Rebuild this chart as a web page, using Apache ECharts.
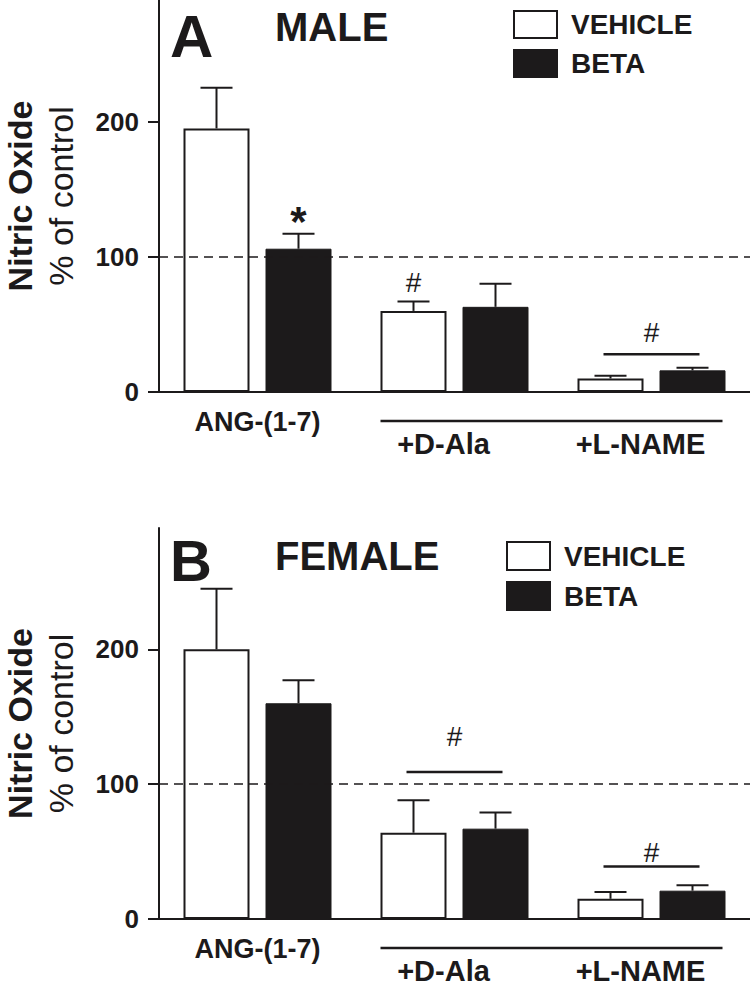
<!DOCTYPE html>
<html>
<head>
<meta charset="utf-8">
<script src="https://cdn.jsdelivr.net/npm/echarts@6/dist/echarts.min.js"></script>
<style>
  html, body { margin: 0; padding: 0; background: #fff; }
  #chart { width: 750px; height: 986px; }
</style>
</head>
<body>
<div id="chart"></div>
<script>
const categories = ['ANG-(1-7)', '+D-Ala', '+L-NAME'];
const seriesNames = ['VEHICLE', 'BETA'];

// panel A (male)
const maleVehicle = [195, 60, 10];
const maleVehicleErr = [225, 67, 12];
const maleBeta = [106, 63, 16];
const maleBetaErr = [117, 80, 18];
// [category, bar (0 vehicle / 1 beta / -1 pair), value, mark]
const maleSigns = [[0, 1, 126, '*'], [1, 0, 81, '#'], [2, -1, 44, '#']];
const maleBrackets = [[2, 28]];

// panel B (female)
const femaleVehicle = [200, 64, 15];
const femaleVehicleErr = [245, 88, 20];
const femaleBeta = [160, 67, 21];
const femaleBetaErr = [177, 79, 25];
const femaleSigns = [[1, -1, 135, '#'], [2, -1, 49, '#']];
const femaleBrackets = [[1, 109], [2, 39]];

const yMajorTicks = [0, 100, 200];
const yMinorTicks = [50, 150, 250];
const controlLevel = 100;
// treatment line under +D-Ala / +L-NAME : [from cat, to cat, value]
const groupSpan = [1, 2, -21.5];

const INK = '#1c1a1b';
const FONT = '"Liberation Sans", Arial, Helvetica, sans-serif';
const BAR_W = 66;
const BAR_GAP = 16;
const HALF_STEP = (BAR_W + BAR_GAP) / 2;

const chart = echarts.init(document.getElementById('chart'), null, { renderer: 'svg' });

function errorSeries(grid, side, means, errs) {
  return {
    type: 'custom',
    xAxisIndex: grid, yAxisIndex: grid * 2,
    z: 4,
    silent: true,
    data: means.map((m, i) => [i, m, errs[i]]),
    renderItem: (params, api) => {
      const cat = api.value(0);
      const base = api.coord([cat, api.value(1)]);
      const top = api.coord([cat, api.value(2)]);
      const x = base[0] + side * HALF_STEP;
      const st = { stroke: INK, lineWidth: 2 };
      return {
        type: 'group',
        children: [
          { type: 'line', shape: { x1: x, y1: base[1], x2: x, y2: top[1] }, style: st },
          { type: 'line', shape: { x1: x - 16, y1: top[1], x2: x + 16, y2: top[1] }, style: st }
        ]
      };
    }
  };
}

function signSeries(grid, signs) {
  return {
    type: 'custom',
    xAxisIndex: grid, yAxisIndex: grid * 2,
    z: 4, clip: false, silent: true,
    data: signs.map(s => [s[0], s[2]]),
    renderItem: (params, api) => {
      const s = signs[params.dataIndex];
      const p = api.coord([api.value(0), api.value(1)]);
      const x = s[1] < 0 ? p[0] : p[0] + (s[1] === 0 ? -1 : 1) * HALF_STEP;
      const star = s[3] === '*';
      return {
        type: 'text',
        x: x, y: p[1],
        style: {
          text: s[3], fill: INK, fontFamily: FONT,
          fontSize: star ? 42 : 28, fontWeight: star ? 'bold' : 'normal',
          align: 'center', verticalAlign: 'middle'
        }
      };
    }
  };
}

function bracketSeries(grid, brackets) {
  return {
    type: 'custom',
    xAxisIndex: grid, yAxisIndex: grid * 2,
    z: 4, clip: false, silent: true,
    data: brackets,
    renderItem: (params, api) => {
      const p = api.coord([api.value(0), api.value(1)]);
      return {
        type: 'line',
        shape: { x1: p[0] - 48, y1: p[1], x2: p[0] + 48, y2: p[1] },
        style: { stroke: INK, lineWidth: 2.5 }
      };
    }
  };
}

function groupLineSeries(grid) {
  return {
    type: 'custom',
    xAxisIndex: grid, yAxisIndex: grid * 2,
    z: 4, clip: false, silent: true,
    data: [groupSpan],
    renderItem: (params, api) => {
      const a = api.coord([api.value(0), api.value(2)]);
      const b = api.coord([api.value(1), api.value(2)]);
      return {
        type: 'line',
        shape: { x1: a[0] - HALF_STEP - BAR_W / 2, y1: a[1], x2: b[0] + HALF_STEP + BAR_W / 2 - 3, y2: b[1] },
        style: { stroke: INK, lineWidth: 2.5 }
      };
    }
  };
}

function panelSeries(grid, vehicle, vehicleErr, beta, betaErr, signs, brackets) {
  return [
    {
      type: 'line', xAxisIndex: grid, yAxisIndex: grid * 2, data: [], z: 1,
      markLine: {
        silent: true, symbol: ['none', 'none'], label: { show: false },
        lineStyle: { color: INK, width: 1.5, type: [9, 6] },
        data: [{ yAxis: controlLevel }]
      }
    },
    {
      name: seriesNames[0], type: 'bar', xAxisIndex: grid, yAxisIndex: grid * 2,
      data: vehicle, barWidth: BAR_W, barGap: (BAR_GAP / BAR_W * 100) + '%', z: 3,
      itemStyle: { color: '#ffffff', borderColor: INK, borderWidth: 2 }
    },
    {
      name: seriesNames[1], type: 'bar', xAxisIndex: grid, yAxisIndex: grid * 2,
      data: beta, barWidth: BAR_W, z: 3,
      itemStyle: { color: INK, borderColor: INK, borderWidth: 1 }
    },
    errorSeries(grid, -1, vehicle, vehicleErr),
    errorSeries(grid, 1, beta, betaErr),
    signSeries(grid, signs),
    bracketSeries(grid, brackets),
    groupLineSeries(grid)
  ];
}

function xAxisFor(grid) {
  return {
    type: 'category', gridIndex: grid, data: categories,
    axisLine: { lineStyle: { color: INK, width: 2 } },
    axisTick: { show: false },
    axisLabel: {
      interval: 0, margin: 16, color: INK,
      formatter: (v, i) => i === 0 ? '{a|' + v + '}' : '{b|' + v + '}',
      rich: {
        a: { fontFamily: FONT, fontSize: 27, fontWeight: 'bold', lineHeight: 27, color: INK },
        b: { fontFamily: FONT, fontSize: 29, fontWeight: 'bold', lineHeight: 29, color: INK, padding: [43, 22, 0, 0] }
      }
    }
  };
}

function yAxesFor(grid) {
  return [
    {
      type: 'value', gridIndex: grid, min: 0, max: 290, interval: 50,
      axisLine: { show: true, lineStyle: { color: INK, width: 2 } },
      axisTick: { show: true, length: 11, customValues: yMajorTicks, lineStyle: { color: INK, width: 2 } },
      axisLabel: {
        customValues: yMajorTicks, margin: 20, color: INK,
        fontFamily: FONT, fontSize: 26, fontWeight: 'bold'
      },
      splitLine: { show: false },
      name: '{a|Nitric Oxide}\n{b|% of control}',
      nameLocation: 'middle', nameRotate: 90, nameGap: 77,
      nameTextStyle: {
        rich: {
          a: { fontFamily: FONT, fontSize: 34, fontWeight: 'bold', lineHeight: 40, color: INK },
          b: { fontFamily: FONT, fontSize: 34, fontWeight: 'normal', lineHeight: 42, color: INK }
        }
      }
    },
    {
      type: 'value', gridIndex: grid, min: 0, max: 290, interval: 50,
      axisLine: { show: false },
      axisTick: { show: true, length: 6, customValues: yMinorTicks, lineStyle: { color: INK, width: 2 } },
      axisLabel: { show: false },
      splitLine: { show: false }
    }
  ];
}

function legendFor(left, top, h) {
  return {
    left: left, top: top, padding: 0, orient: 'vertical', selectedMode: false,
    data: seriesNames, icon: 'rect', itemWidth: 43, itemHeight: h, itemGap: 10,
    textStyle: { fontFamily: FONT, fontSize: 28, fontWeight: 'bold', color: INK, padding: [0, 0, 0, 9] }
  };
}

function label(text, x, y, size) {
  return {
    type: 'text', x: x, y: y, silent: true,
    style: { text: text, fill: INK, fontFamily: FONT, fontSize: size, fontWeight: 'bold', verticalAlign: 'middle' }
  };
}

const option = {
  backgroundColor: '#ffffff',
  animation: false,
  grid: [
    { left: 159, top: 0, width: 591, height: 392, containLabel: false, outerBoundsMode: 'none' },
    { left: 159, top: 528, width: 591, height: 391, containLabel: false, outerBoundsMode: 'none' }
  ],
  xAxis: [xAxisFor(0), xAxisFor(1)],
  yAxis: yAxesFor(0).concat(yAxesFor(1)),
  legend: [legendFor(513, 10, 27), legendFor(506, 541, 28)],
  graphic: [
    label('A', 170, 36, 60),
    label('MALE', 275, 27, 40),
    label('B', 170, 560, 58),
    label('FEMALE', 275, 556, 40)
  ],
  series: panelSeries(0, maleVehicle, maleVehicleErr, maleBeta, maleBetaErr, maleSigns, maleBrackets)
    .concat(panelSeries(1, femaleVehicle, femaleVehicleErr, femaleBeta, femaleBetaErr, femaleSigns, femaleBrackets))
};

chart.setOption(option);
</script>
</body>
</html>
